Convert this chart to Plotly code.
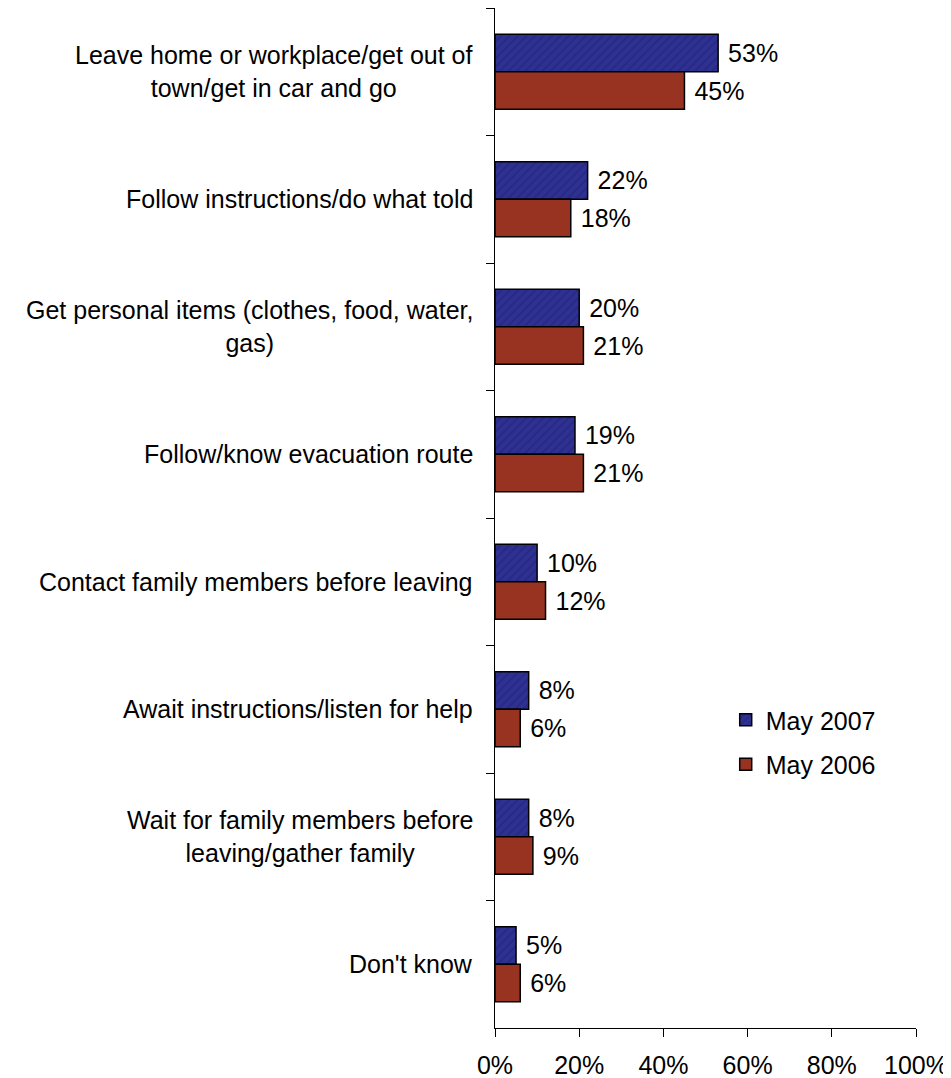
import plotly.graph_objects as go

# Responses, top to bottom
categories = [
    "Leave home or workplace/get out of<br>town/get in car and go",
    "Follow instructions/do what told",
    "Get personal items (clothes, food, water,<br>gas)",
    "Follow/know evacuation route",
    "Contact family members before leaving",
    "Await instructions/listen for help",
    "Wait for family members before<br>leaving/gather family",
    "Don't know",
]
may_2007 = [53, 22, 20, 19, 10, 8, 8, 5]
may_2006 = [45, 18, 21, 21, 12, 6, 9, 6]

BLUE = "#2E3192"
BLUE_HATCH = "#1E2070"
RED = "#993321"
FONT = "Liberation Sans, Arial, sans-serif"
SIZE = 25

fig = go.Figure()
fig.add_trace(go.Bar(
    y=categories, x=may_2007, orientation="h", name="May 2007",
    legendgroup="a",
    marker=dict(color=BLUE, line=dict(color="black", width=1.5),
                pattern=dict(shape="/", fgcolor=BLUE_HATCH, bgcolor=BLUE,
                             size=6, solidity=0.3)),
    text=[f" {v}%" for v in may_2007], textposition="outside",
    cliponaxis=False,
))
fig.add_trace(go.Bar(
    y=categories, x=may_2006, orientation="h", name="May 2006",
    legendgroup="b",
    marker=dict(color=RED, line=dict(color="black", width=1.5)),
    text=[f" {v}%" for v in may_2006], textposition="outside",
    cliponaxis=False,
))

# Category labels as centred multi-line text to the left of the axis
for c in categories:
    fig.add_annotation(
        x=-0.047, xref="paper", y=c, yref="y",
        text=c, showarrow=False, xanchor="right", align="center",
        font=dict(size=SIZE, color="black", family=FONT),
    )

# page body adds an 8px margin, so the figure is a bit smaller than the window
fig.update_layout(
    width=943, height=1070,
    margin=dict(l=487, r=35, t=0, b=50),
    plot_bgcolor="white", paper_bgcolor="white",
    barmode="group", bargap=0.41, bargroupgap=0,
    font=dict(family=FONT, size=SIZE, color="black"),
    legend=dict(x=0.548, y=0.3245, xanchor="left", yanchor="top",
                traceorder="grouped", tracegroupgap=9,
                font=dict(size=SIZE), bgcolor="rgba(0,0,0,0)"),
)
fig.update_traces(textfont=dict(size=SIZE, color="black"))
fig.update_xaxes(range=[0, 100], dtick=20, ticksuffix="%",
                 showline=True, linecolor="black", linewidth=1,
                 ticks="outside", ticklen=8, tickcolor="black",
                 ticklabelstandoff=7,
                 showgrid=False, zeroline=False)
fig.update_yaxes(autorange="reversed", showticklabels=False,
                 showline=True, linecolor="black", linewidth=1,
                 ticks="outside", ticklen=8, tickcolor="black",
                 tickson="boundaries", showgrid=False)

fig.write_html("out.html")
